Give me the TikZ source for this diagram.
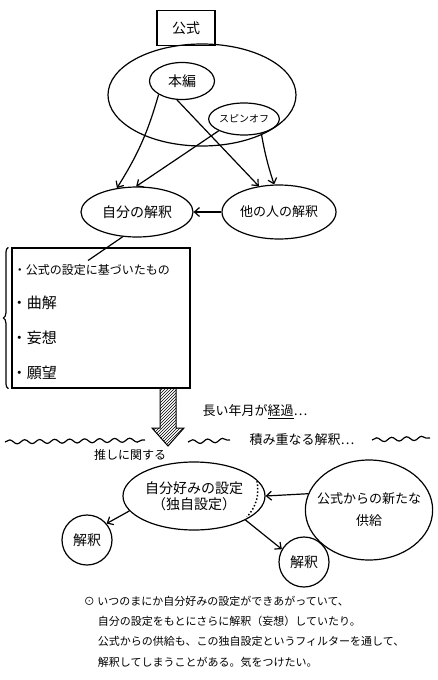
\documentclass[tikz,border=0pt]{standalone}
\usepackage{fontspec}
\setmainfont{Noto Sans CJK JP}
\usetikzlibrary{arrows.meta,shapes.geometric,patterns,positioning,decorations.pathmorphing,decorations.pathreplacing}

\tikzset{
  blob/.style={ellipse,draw,inner sep=0pt},
  kaiwa/.style={circle,draw,inner sep=0pt,minimum size=50pt},
  nami/.style={-,decorate,decoration={snake,amplitude=2pt,segment length=15pt}},
  memo/.style={anchor=west,font=\fontsize{11}{13}\selectfont},
}

\begin{document}
\begin{tikzpicture}[->,>={Straight Barb[length=5pt,width=9pt]},x=1pt,y=-1pt,line width=1.2pt,font=\fontsize{14}{16}\selectfont]
  \useasboundingbox (0,0) rectangle (438,680);
  % canon
  \node [draw,minimum width=58pt,minimum height=35pt] (kousiki) at (186,28) {公式};
  \node [blob,minimum width=188pt,minimum height=102pt] (sekai) at (202,95) {};
  \node [blob,minimum width=65pt,minimum height=37pt] (honpen) at (182,81) {本編};
  \node [blob,minimum width=70pt,minimum height=32pt,font=\fontsize{10}{12}\selectfont] (spinoff) at (244,119) {スピンオフ};
  % interpretations
  \node [blob,minimum width=112pt,minimum height=50pt] (jibun) at (137,212) {自分の解釈};
  \node [blob,minimum width=114pt,minimum height=54pt,font=\fontsize{13}{15}\selectfont] (tanin) at (279,212) {他の人の解釈};
  \path
  (honpen.210) edge [bend left=8] (jibun.130)
  (honpen.255) edge (tanin.128)
  (spinoff.205) edge (jibun.92)
  (spinoff.320) edge [bend right=4] (tanin.100)
  (tanin.west) edge (jibun.east)
  ;
  % list
  \node [draw,minimum width=178pt,minimum height=140pt] (liste) at (101,318) {};
  \draw [-,decorate,decoration={brace,amplitude=5pt}] ([xshift=-3pt]liste.south west) -- ([xshift=-3pt]liste.north west);
  \node [anchor=west,font=\fontsize{12}{14}\selectfont] (item1) at (10,270) {・公式の設定に基づいたもの};
  \node [anchor=west,font=\fontsize{15}{17}\selectfont] (item2) at (8,303) {・曲解};
  \node [anchor=west,font=\fontsize{15}{17}\selectfont] (item3) at (8,338) {・妄想};
  \node [anchor=west,font=\fontsize{15}{17}\selectfont] (item4) at (8,373) {・願望};
  \draw [-] (jibun.240) -- (item1.north -| 88,0);
  % time passes
  \draw [-,line width=1pt,pattern=north east lines] (160,388) -- (176,388) -- (176,428) -- (184,428) -- (168,446) -- (152,428) -- (160,428) -- cycle;
  \node [font=\fontsize{13}{15}\selectfont] (nengetsu) at (255,412) {長い年月が\underline{経過}…};
  \node [font=\fontsize{13}{15}\selectfont] (tsumi) at (302,440) {積み重なる解釈…};
  \draw [nami] (5,442) -- (145,440);
  \draw [nami] (188,442) -- (230,440);
  \draw [nami] (372,440) -- (430,438);
  % own setting
  \node [font=\fontsize{12}{14}\selectfont] (oshi) at (130,455) {推しに関する};
  \node [blob,minimum width=142pt,minimum height=68pt,align=center] (konomi) at (194,496) {自分好みの設定\\（独自設定）};
  \draw [-,dotted,line width=1.5pt] (257,481) to [bend left=25] (247,517);
  \node [blob,inner sep=-7pt,minimum height=100pt,align=center,font=\fontsize{13}{22}\selectfont] (kyoukyu) at (369,510) {公式からの新たな\\供給};
  \node [kaiwa] (kai1) at (87,540) {解釈};
  \node [kaiwa] (kai2) at (304,562) {解釈};
  \path
  (kyoukyu.165) edge (konomi.east)
  (konomi.193) edge (kai1.40)
  (konomi.335) edge (kai2.150)
  ;
  % note
  \node [memo] (memo1) at (80,601) {⊙ いつのまにか自分好みの設定ができあがっていて、};
  \node [memo] (memo2) at (94,621) {自分の設定をもとにさらに解釈（妄想）していたり。};
  \node [memo] (memo3) at (94,641) {公式からの供給も、この独自設定というフィルターを通して、};
  \node [memo] (memo4) at (94,662) {解釈してしまうことがある。気をつけたい。};
\end{tikzpicture}
\end{document}
